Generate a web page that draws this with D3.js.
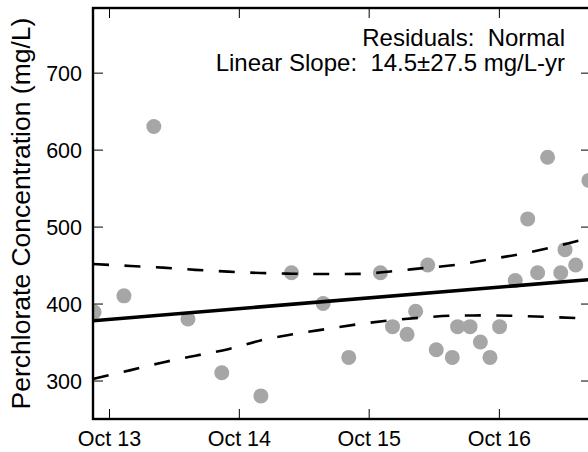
<!DOCTYPE html>
<html>
<head>
<meta charset="utf-8">
<script src="https://cdn.jsdelivr.net/npm/d3@7"></script>
<style>
  html, body { margin: 0; padding: 0; background: #fff; }
  svg { display: block; font-family: "Liberation Sans", Arial, Helvetica, sans-serif; }
</style>
</head>
<body>
<svg id="chart" width="588" height="452"></svg>
<script>
// ---- data ----
const sampleDates = ["2013-08-20","2013-11-12","2014-02-04","2014-05-11","2014-08-14","2014-12-02",
  "2015-02-26","2015-05-26","2015-08-06","2015-11-03","2015-12-07","2016-01-17","2016-02-10",
  "2016-03-15","2016-04-08","2016-05-23","2016-06-07","2016-07-12","2016-08-10","2016-09-06",
  "2016-10-03","2016-11-16","2016-12-21","2017-01-18","2017-02-15","2017-03-24","2017-04-05",
  "2017-05-05","2017-06-11"];
const sampleValues = [389,410,630,380,310,280,
  440,400,330,440,370,360,390,
  450,340,330,370,370,350,330,
  370,430,510,440,590,440,470,
  450,560];

const trendDates = ["2013-08-17","2017-06-17"];
const trendValues = [377.7, 431.2];

const bandDates = ["2013-08-17","2013-12-01","2014-03-01","2014-06-01","2014-09-01","2014-12-01",
  "2015-03-01","2015-06-01","2015-09-01","2015-12-01","2016-03-01","2016-06-01","2016-09-01",
  "2016-12-01","2017-03-01","2017-06-17"];
const bandUpper = [451.4,448.8,446.7,443.8,441.5,439.7,438.8,438.4,438.5,441.7,446.0,450.2,457.2,464.4,473.3,486.0];
const bandLower = [302.0,313.5,323.5,332.3,340.7,352.1,360.0,366.7,373.1,378.2,381.8,384.3,384.6,383.8,382.4,380.3];

const xDomain = ["2013-08-17","2017-06-17"];
const yDomain = [250, 784];
const xTickDates = ["2013-10-01","2014-10-01","2015-10-01","2016-10-01"];
const yTickValues = [300, 400, 500, 600, 700];
const yLabel = "Perchlorate Concentration (mg/L)";
const annotLines = ["Residuals:  Normal", "Linear Slope:  14.5\u00b127.5 mg/L-yr"];

// ---- drawing ----
const parse = d3.utcParse("%Y-%m-%d");
const svg = d3.select("#chart");
const m = {left: 93, right: 591, top: 8, bottom: 419};

const x = d3.scaleUtc().domain(xDomain.map(parse)).range([m.left, m.right]);
const y = d3.scaleLinear().domain(yDomain).range([m.bottom, m.top]);

svg.append("defs").append("clipPath").attr("id", "clip")
  .append("rect").attr("x", m.left).attr("y", m.top)
  .attr("width", m.right - m.left).attr("height", m.bottom - m.top);

const plot = svg.append("g").attr("clip-path", "url(#clip)");

// points
const pts = sampleDates.map((d, i) => ({d: parse(d), v: sampleValues[i]}));
plot.selectAll("circle").data(pts).join("circle")
  .attr("cx", p => x(p.d)).attr("cy", p => y(p.v)).attr("r", 7.5)
  .attr("fill", "#a6a6a6");

// trend line
const trend = trendDates.map((d, i) => ({d: parse(d), v: trendValues[i]}));
const line = d3.line().x(p => x(p.d)).y(p => y(p.v));
plot.append("path").datum(trend).attr("d", line)
  .attr("fill", "none").attr("stroke", "#000").attr("stroke-width", 3.6);

// confidence band
const curve = d3.line().x(p => x(p.d)).y(p => y(p.v)).curve(d3.curveMonotoneX);
[bandUpper, bandLower].forEach(arr => {
  const data = bandDates.map((d, i) => ({d: parse(d), v: arr[i]}));
  plot.append("path").datum(data).attr("d", curve)
    .attr("fill", "none").attr("stroke", "#000").attr("stroke-width", 2.6)
    .attr("stroke-dasharray", "16,15.5");
});

// axes (ticks inward on all sides)
const tickLen = 10;
const xTicks = xTickDates.map(parse);
const fmt = d3.utcFormat("%b %y");

const axB = svg.append("g").attr("transform", `translate(0,${m.bottom})`)
  .call(d3.axisBottom(x).tickValues(xTicks).tickFormat(fmt).tickSizeInner(-tickLen).tickSizeOuter(0).tickPadding(16));
const axT = svg.append("g").attr("transform", `translate(0,${m.top})`)
  .call(d3.axisTop(x).tickValues(xTicks).tickFormat("").tickSizeInner(-tickLen).tickSizeOuter(0));
const axL = svg.append("g").attr("transform", `translate(${m.left},0)`)
  .call(d3.axisLeft(y).tickValues(yTickValues).tickSizeInner(-tickLen).tickSizeOuter(0).tickPadding(11));
const axR = svg.append("g").attr("transform", `translate(${m.right},0)`)
  .call(d3.axisRight(y).tickValues(yTickValues).tickFormat("").tickSizeInner(-tickLen).tickSizeOuter(0));

[axB, axT, axL, axR].forEach(a => {
  a.select(".domain").remove();
  a.selectAll(".tick line").attr("stroke", "#000").attr("stroke-width", 1);
  a.selectAll("text").attr("font-size", 21.5).attr("fill", "#000")
    .style("font-family", '"Liberation Sans", Arial, sans-serif');
});
axB.selectAll("text").attr("dy", null).attr("y", 26.5).attr("dominant-baseline", "auto");
axL.selectAll("text").attr("dy", "0.36em");

// frame
svg.append("rect").attr("x", m.left).attr("y", m.top)
  .attr("width", m.right - m.left).attr("height", m.bottom - m.top)
  .attr("fill", "none").attr("stroke", "#000").attr("stroke-width", 2.4);

// y label
svg.append("text")
  .attr("transform", `translate(30,${(m.top + m.bottom) / 2}) rotate(-90)`)
  .attr("text-anchor", "middle").attr("font-size", 26.5).attr("fill", "#000")
  .text(yLabel);

// annotation
svg.append("g").selectAll("text").data(annotLines).join("text")
  .attr("x", 565).attr("y", (d, i) => 46 + i * 25)
  .attr("text-anchor", "end").attr("font-size", 24).attr("fill", "#000")
  .attr("xml:space", "preserve").style("white-space", "pre")
  .text(d => d);
</script>
</body>
</html>
